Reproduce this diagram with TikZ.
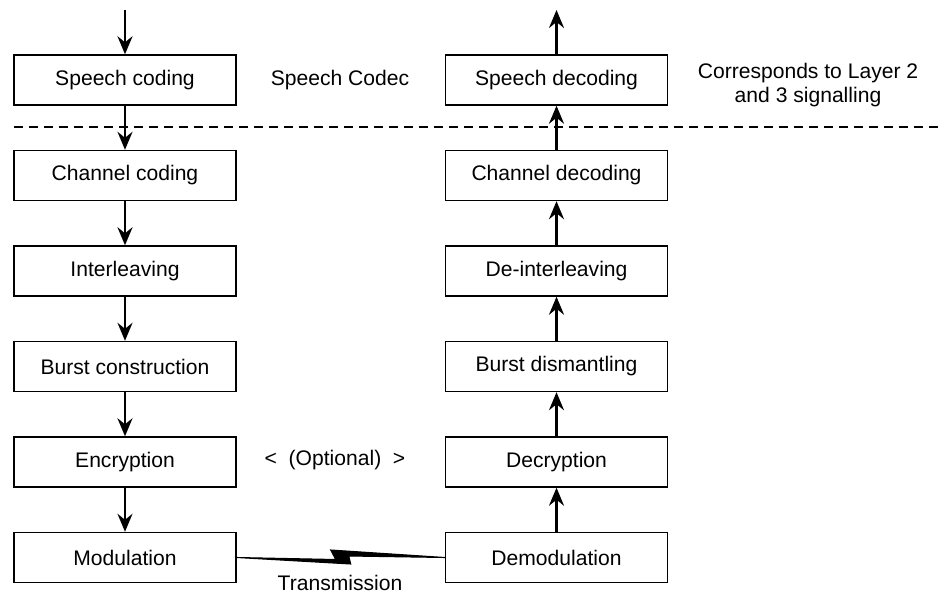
\documentclass[tikz,border=0pt]{standalone}
\usepackage{fontspec}
\setmainfont{Liberation Sans}
\usetikzlibrary{arrows.meta, calc}
\tikzset{
  stage/.style={draw=black, line width=0.8pt, minimum width=4.44cm, minimum height=1cm,
                inner sep=0pt, align=center, font=\fontsize{12}{14}\selectfont},
  lbl/.style={align=center, font=\fontsize{12}{14}\selectfont},
  fl/.style={-{Stealth[length=0.36cm, width=0.3cm, inset=0.12cm]}, line width=1.4pt},
  sep/.style={dash pattern=on 0.18cm off 0.12cm, line width=0.8pt},
}
\begin{document}
\begin{tikzpicture}
    \useasboundingbox (0,0) rectangle (18.86,-11.9);
    % transmit side
    \node[stage] (sc) at (2.5,-1.6) {Speech coding};
    \node[stage] (cc) at (2.5,-3.51) {Channel coding};
    \node[stage] (il) at (2.5,-5.42) {Interleaving};
    \node[stage] (bc) at (2.5,-7.33) {Burst construction};
    \node[stage] (en) at (2.5,-9.24) {Encryption};
    \node[stage] (mod) at (2.5,-11.15) {Modulation};
    % receive side
    \node[stage] (sd) at (11.13,-1.6) {Speech decoding};
    \node[stage] (cd) at (11.13,-3.51) {Channel decoding};
    \node[stage] (di) at (11.13,-5.42) {De-interleaving};
    \node[stage] (bd) at (11.13,-7.33) {Burst dismantling};
    \node[stage] (de) at (11.13,-9.24) {Decryption};
    \node[stage] (dmod) at (11.13,-11.15) {Demodulation};
    % labels
    \node[lbl] (codec) at (6.8,-1.6) {Speech Codec};
    \node[lbl] (layer) at (16.16,-1.7) {Corresponds to Layer 2\\and 3 signalling};
    \node[lbl] (opt) at (6.7,-9.2) {<\ \ (Optional)\ \ >};
    \node[lbl, anchor=base] (tx) at (6.8,-11.8) {Transmission};
    \coordinate (in) at (2.5,-0.2);
    \coordinate (out) at (11.13,-0.2);
    \coordinate (dl) at (0.28,-2.54);
    \coordinate (dr) at (18.86,-2.54);
    \draw[sep] (dl) -- (dr);
    \draw[fl] (in)--(sc); \draw[fl] (sc)--(cc); \draw[fl] (cc)--(il);
    \draw[fl] (il)--(bc); \draw[fl] (bc)--(en); \draw[fl] (en)--(mod);
    \draw[fl] (dmod)--(de); \draw[fl] (de)--(bd); \draw[fl] (bd)--(di);
    \draw[fl] (di)--(cd); \draw[fl] (cd)--(sd); \draw[fl] (sd)--(out);
    % radio link
    \filldraw[line width=0.6pt, line join=miter] (mod.east) -- ($(mod.east)+(1.98,-0.04)$)
      -- ($(mod.east)+(1.88,0.15)$) -- (dmod.west) -- ($(mod.east)+(2.24,0.03)$)
      -- ($(mod.east)+(2.28,-0.13)$) -- cycle;
  \end{tikzpicture}
\end{document}
